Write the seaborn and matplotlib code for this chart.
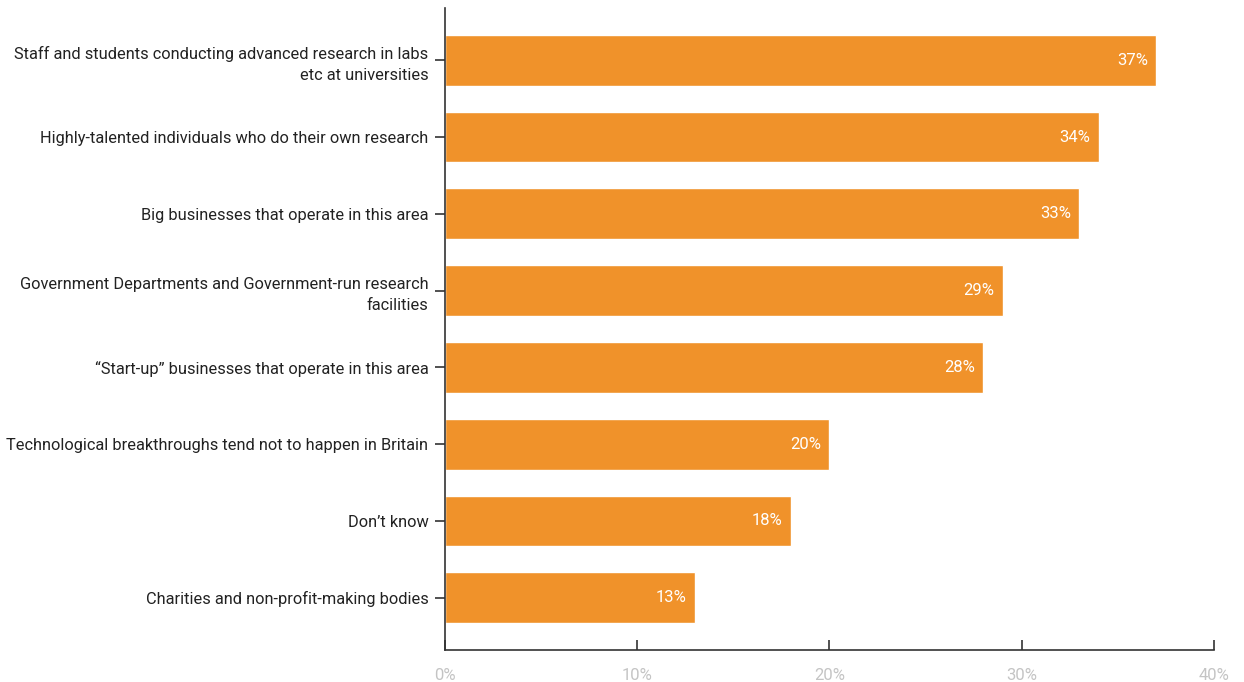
import matplotlib
matplotlib.use("Agg")
import matplotlib.pyplot as plt
import seaborn as sns
import pandas as pd

categories = [
    "Staff and students conducting advanced research in labs\netc at universities",
    "Highly-talented individuals who do their own research",
    "Big businesses that operate in this area",
    "Government Departments and Government-run research\nfacilities",
    "\u201cStart-up\u201d businesses that operate in this area",
    "Technological breakthroughs tend not to happen in Britain",
    "Don\u2019t know",
    "Charities and non-profit-making bodies",
]
values = [37, 34, 33, 29, 28, 20, 18, 13]
x_ticks = [0, 10, 20, 30, 40]
x_tick_labels = ["0%", "10%", "20%", "30%", "40%"]

sns.set_theme(style="white")
plt.rcParams["font.family"] = ["Roboto", "DejaVu Sans"]

df = pd.DataFrame({"category": categories, "value": values})

fig = plt.figure(figsize=(12.44, 6.82), dpi=100)
ax = fig.add_axes([445 / 1244, 1 - 650 / 682, (1214 - 445) / 1244, (650 - 8) / 682])

bar_color = "#F0922A"
sns.barplot(data=df, x="value", y="category", color=bar_color, saturation=1,
            width=0.66, ax=ax, orient="h")

for patch, v in zip(ax.patches, values):
    y = patch.get_y() + patch.get_height() / 2
    ax.annotate(f"{v}%", xy=(v, y), xytext=(-6, 0), textcoords="offset points",
                ha="right", va="center", color="white", fontsize=12)

ax.set_xlim(0, 40)
ax.set_ylim(len(categories) - 1 + 0.68, -0.68)
ax.set_xticks(x_ticks)
ax.set_xticklabels(x_tick_labels, color="#C4C4C4", fontsize=12)
ax.set_yticks(range(len(categories)))
ax.set_yticklabels(categories, color="#222222", fontsize=11.8, ha="right",
                   linespacing=1.45)
ax.set_xlabel("")
ax.set_ylabel("")

for side in ["top", "right"]:
    ax.spines[side].set_visible(False)
for side in ["left", "bottom"]:
    ax.spines[side].set_color("#333333")
    ax.spines[side].set_linewidth(1.2)

ax.tick_params(axis="x", bottom=True, direction="in", length=7, width=1.2,
               color="#333333", pad=13)
ax.tick_params(axis="y", left=True, direction="out", length=7, width=1.2,
               color="#333333", pad=5)
ax.grid(False)

fig.savefig("out.png", dpi=100)
